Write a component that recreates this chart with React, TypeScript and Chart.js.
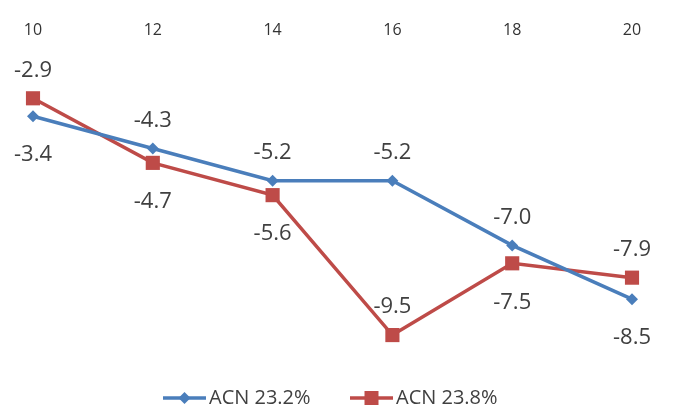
import React, { useEffect, useRef } from "react";
import { Chart, registerables } from "chart.js";

Chart.register(...registerables);

const categories = ["10", "12", "14", "16", "18", "20"];
const seriesNames = ["ACN 23.2%", "ACN 23.8%"];
const acn232 = [-3.4, -4.3, -5.2, -5.2, -7.0, -8.5];
const acn238 = [-2.9, -4.7, -5.6, -9.5, -7.5, -7.9];
// label placement per point: "above" or "below"
const labelPos232 = ["below", "above", "above", "above", "above", "below"];
const labelPos238 = ["above", "below", "below", "above", "below", "above"];

const BLUE = "#4A7EBB";
const RED = "#BE4B48";
const TEXT = "#404040";
const FONT = "'Open Sans', 'Liberation Sans', sans-serif";

const labelsPlugin = {
  id: "pointLabels",
  afterDatasetsDraw(chart: any) {
    const ctx = chart.ctx;
    ctx.save();
    ctx.font = `22px ${FONT}`;
    ctx.fillStyle = TEXT;
    ctx.textAlign = "center";
    ctx.textBaseline = "middle";
    const positions = [labelPos232, labelPos238];
    chart.data.datasets.forEach((ds: any, di: number) => {
      const meta = chart.getDatasetMeta(di);
      meta.data.forEach((pt: any, i: number) => {
        const pos = positions[di][i];
        const dy = pos === "above" ? -28 : 39;
        ctx.fillText(Number(ds.data[i]).toFixed(1), pt.x, pt.y + dy);
      });
    });
    ctx.restore();
  },
};

const legendPlugin = {
  id: "customLegend",
  afterDraw(chart: any) {
    const ctx = chart.ctx;
    ctx.save();
    const y = 398;
    const items = [
      { x: 163, color: BLUE, style: "diamond", name: seriesNames[0] },
      { x: 350, color: RED, style: "square", name: seriesNames[1] },
    ];
    items.forEach((it) => {
      ctx.strokeStyle = it.color;
      ctx.lineWidth = 3.5;
      ctx.beginPath();
      ctx.moveTo(it.x, y);
      ctx.lineTo(it.x + 43, y);
      ctx.stroke();
      ctx.fillStyle = it.color;
      const cx = it.x + 21.5;
      ctx.beginPath();
      if (it.style === "diamond") {
        ctx.moveTo(cx - 6, y);
        ctx.lineTo(cx, y - 6);
        ctx.lineTo(cx + 6, y);
        ctx.lineTo(cx, y + 6);
        ctx.closePath();
      } else {
        ctx.rect(cx - 7, y - 7, 14, 14);
      }
      ctx.fill();
      ctx.fillStyle = TEXT;
      ctx.font = `20px ${FONT}`;
      ctx.textAlign = "left";
      ctx.textBaseline = "middle";
      ctx.fillText(it.name, it.x + 46, y);
    });
    ctx.restore();
  },
};

export default function App() {
  const ref = useRef<HTMLCanvasElement>(null);
  useEffect(() => {
    if (!ref.current) return;
    const chart = new Chart(ref.current, {
      type: "line",
      data: {
        labels: categories,
        datasets: [
          {
            label: seriesNames[0],
            data: acn232,
            borderColor: BLUE,
            backgroundColor: BLUE,
            borderWidth: 3.5,
            pointStyle: "rectRot",
            pointRadius: 6,
            pointBorderWidth: 0,
            tension: 0,
          },
          {
            label: seriesNames[1],
            data: acn238,
            borderColor: RED,
            backgroundColor: RED,
            borderWidth: 3.5,
            pointStyle: "rect",
            pointRadius: 10,
            pointBorderWidth: 0,
            tension: 0,
          },
        ],
      },
      options: {
        animation: false,
        responsive: false,
        layout: { padding: { left: 33, right: 44, top: 0, bottom: 54 } },
        plugins: { legend: { display: false }, tooltip: { enabled: false } },
        scales: {
          x: {
            position: "top",
            offset: false,
            grid: { display: false },
            border: { display: false },
            ticks: {
              color: "#333333",
              font: { family: FONT, size: 16 },
              padding: 18,
              maxRotation: 0,
            },
            afterFit: (s: any) => {
              s.height = 66;
            },
          },
          y: {
            display: false,
            min: -10,
            max: -2,
          },
        },
      },
      plugins: [labelsPlugin, legendPlugin],
    });
    return () => chart.destroy();
  }, []);
  return (
    <div style={{ position: "fixed", left: 0, top: 0, width: 676, height: 407, background: "#fff" }}>
      <canvas ref={ref} width={676} height={407} />
    </div>
  );
}
